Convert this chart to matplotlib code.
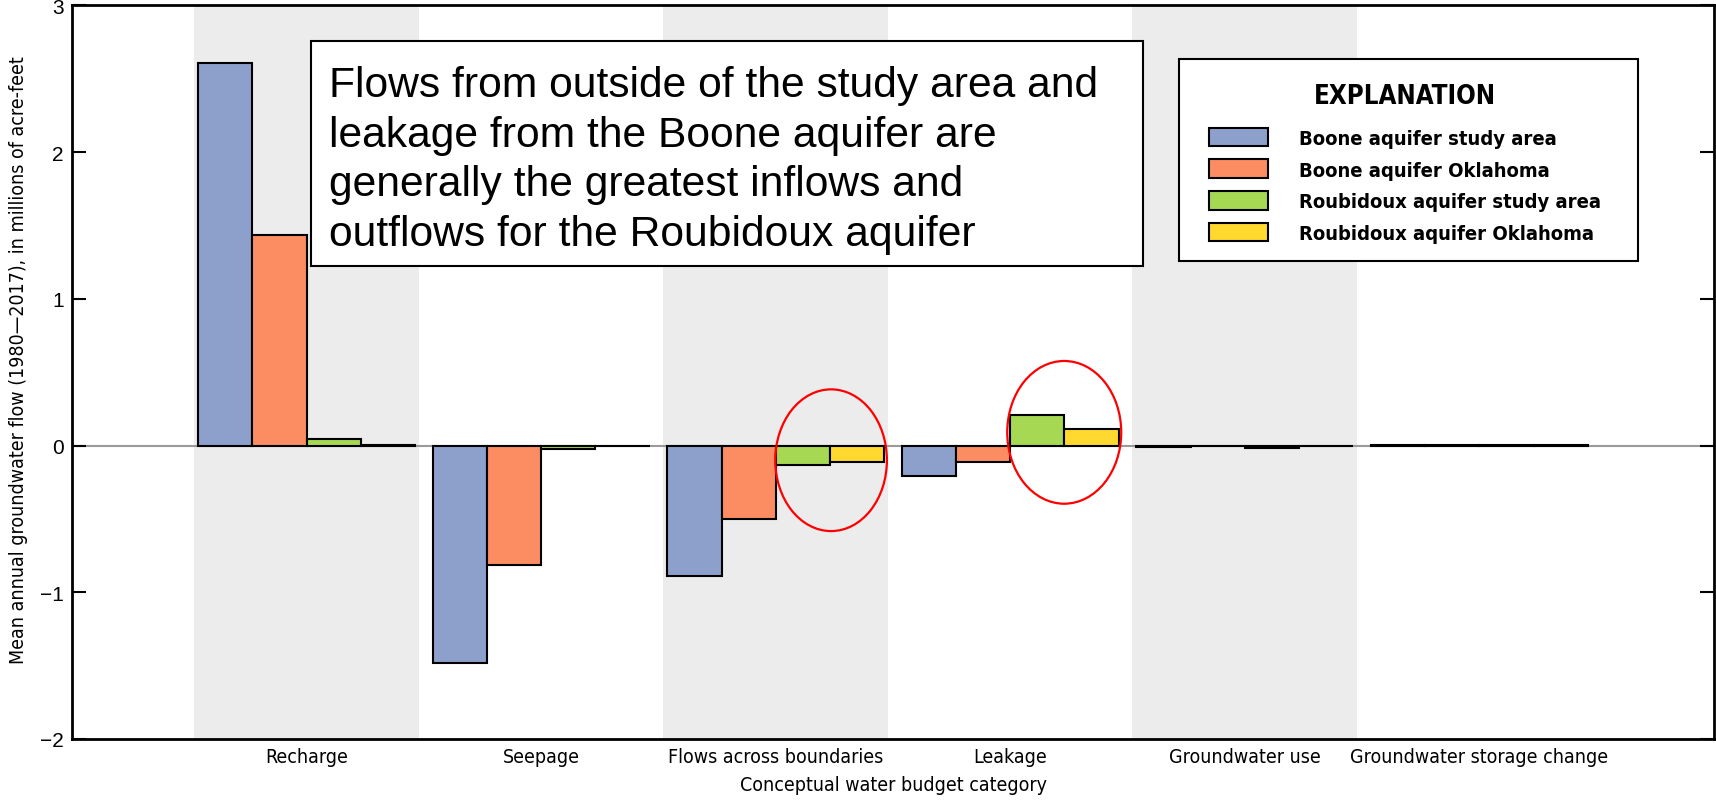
import numpy as np
import matplotlib
matplotlib.use("Agg")
from matplotlib import pyplot as plt
from matplotlib.patches import Ellipse, Rectangle
from matplotlib.font_manager import FontProperties

# data (millions of acre-feet)
categories = ["Recharge", "Seepage", "Flows across boundaries", "Leakage",
              "Groundwater use", "Groundwater storage change"]
series_names = ["Boone aquifer study area", "Boone aquifer Oklahoma",
                "Roubidoux aquifer study area", "Roubidoux aquifer Oklahoma"]
boone_study = [2.61, -1.485, -0.888, -0.21, -0.010, 0.003]
boone_ok = [1.437, -0.815, -0.50, -0.115, -0.003, 0.003]
roub_study = [0.044, -0.024, -0.13, 0.21, -0.020, 0.003]
roub_ok = [0.005, -0.004, -0.11, 0.112, -0.004, 0.003]
colors = ["#8DA0CB", "#FC8D62", "#A6D854", "#FFD92F"]
note = ("Flows from outside of the study area and\n"
        "leakage from the Boone aquifer are\n"
        "generally the greatest inflows and\n"
        "outflows for the Roubidoux aquifer")

def cond(size, weight="normal"):
    return FontProperties(family="DejaVu Sans", stretch="condensed", size=size, weight=weight)

fig = plt.figure(figsize=(17.16, 8.03), dpi=100)
ax = fig.add_axes([0.042, 0.0785, 0.9568, 0.9135])

x = np.arange(len(categories))
w = 0.231

# gray bands behind every other category
for i in range(0, len(categories), 2):
    ax.axvspan(i - 0.48, i + 0.48, color="#ECECEC", zorder=0, lw=0)

ax.axhline(0, color="#9a9a9a", lw=1.5, zorder=1)

all_vals = [boone_study, boone_ok, roub_study, roub_ok]
for k, vals in enumerate(all_vals):
    ax.bar(x + (k - 1.5) * w, vals, width=w, color=colors[k], edgecolor="black",
           linewidth=1.5, label=series_names[k], zorder=2)

# red circles
ax.add_patch(Ellipse((2.236, -0.10), 0.476, 0.966, fill=False, edgecolor="red", lw=1.6, zorder=3))
ax.add_patch(Ellipse((3.23, 0.09), 0.486, 0.973, fill=False, edgecolor="red", lw=1.6, zorder=3))

ax.set_xlim(-1, 6)
ax.set_ylim(-2, 3)
ax.set_xticks(x)
ax.set_xticklabels(categories, fontproperties=cond(14))
ax.tick_params(axis="x", length=0, pad=6)
ax.set_yticks([-2, -1, 0, 1, 2, 3])
ax.set_yticklabels(["\u22122", "\u22121", "0", "1", "2", "3"], family="Liberation Sans", fontsize=15)
ax.tick_params(axis="y", direction="in", length=10, width=1.5, right=True, pad=6)
for s in ax.spines.values():
    s.set_linewidth(2)

ax.set_xlabel("Conceptual water budget category", fontproperties=cond(14), labelpad=6)
ax.set_ylabel("Mean annual groundwater flow (1980\u20142017), in millions of acre-feet",
              fontproperties=cond(14))
ax.yaxis.set_label_coords(-0.027, 0.518)

# legend, frame drawn separately
frame = Rectangle((0.6869, 0.6742), 0.2678, 0.2508, transform=fig.transFigure,
                  facecolor="white", edgecolor="black", lw=1.5, zorder=5, clip_on=False)
ax.add_patch(frame)
leg = ax.legend(loc="upper left", bbox_to_anchor=(0.7047, 0.8955), bbox_transform=fig.transFigure,
                borderaxespad=0, borderpad=0, frameon=False,
                title="EXPLANATION", prop=cond(14.5, "bold"),
                handlelength=2.9, handleheight=1.05, labelspacing=0.57, handletextpad=1.55)
leg.get_title().set_fontproperties(cond(18.5, "bold"))
leg._legend_box.sep = 13.5
leg.set_zorder(6)

# note box
fig.patches.append(Rectangle((0.181, 0.667), 0.485, 0.281, transform=fig.transFigure,
                             facecolor="white", edgecolor="black", lw=1.5, zorder=5))
fig.text(0.192, 0.800, note, family="Liberation Sans", fontsize=30.7, va="center", ha="left",
         linespacing=1.31, zorder=6)

fig.savefig("out.png", dpi=100)
